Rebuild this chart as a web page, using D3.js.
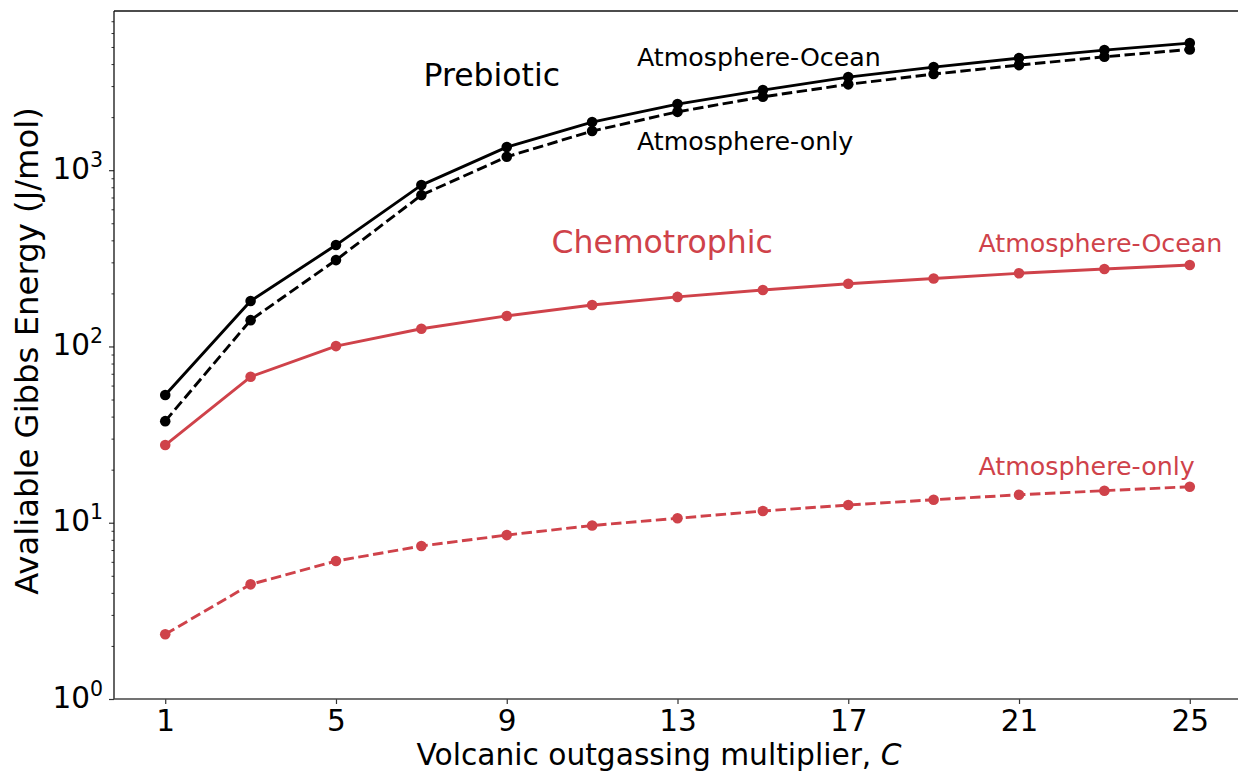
<!DOCTYPE html>
<html>
<head>
<meta charset="utf-8">
<script src="https://cdn.jsdelivr.net/npm/d3@7"></script>
<style>
  html, body { margin: 0; padding: 0; background: #fff; overflow: hidden; }
  svg { display: block; font-family: "DejaVu Sans", sans-serif; }
</style>
</head>
<body>
<svg id="chart" width="1238" height="773"></svg>
<script>
// ---- data ----
const multipliers = [1, 3, 5, 7, 9, 11, 13, 15, 17, 19, 21, 23, 25];
const prebioticAtmOcean = [53, 181, 376, 823, 1352, 1875, 2371, 2846, 3374, 3846, 4324, 4800, 5260];
const prebioticAtmOnly  = [37.7, 141, 309, 722, 1191, 1667, 2143, 2608, 3068, 3510, 3947, 4399, 4843];
const chemoAtmOcean     = [27.6, 67.3, 100.5, 126, 149, 172, 191, 209, 227, 243, 260, 275, 290];
const chemoAtmOnly      = [2.33, 4.47, 6.06, 7.38, 8.51, 9.64, 10.6, 11.65, 12.6, 13.5, 14.4, 15.2, 16.0];
const xTicks = [1, 5, 9, 13, 17, 21, 25];
const yTicks = [1, 10, 100, 1000];
const yExponents = ["0", "1", "2", "3"];
const xLabel = "Volcanic outgassing multiplier, ";
const xLabelItalic = "C";
const yLabel = "Avaliable Gibbs Energy (J/mol)";

// annotations (data coordinates)
const annotations = [
  { text: "Prebiotic",        x: 7.05, y: 3000, size: 31.5, color: "black" },
  { text: "Atmosphere-Ocean", x: 12.05, y: 3900, size: 25.3, color: "black" },
  { text: "Atmosphere-only",  x: 12.05, y: 1300, size: 25.3, color: "black" },
  { text: "Chemotrophic",     x: 10.05, y: 340,  size: 31.5, color: "red" },
  { text: "Atmosphere-Ocean", x: 20.05, y: 345,  size: 25.3, color: "red" },
  { text: "Atmosphere-only",  x: 20.05, y: 18.6, size: 25.3, color: "red" }
];

// ---- styles ----
const RED = "#cf424a";
const BLACK = "#000000";
const colorOf = c => c === "red" ? RED : BLACK;

const series = [
  { values: prebioticAtmOcean, color: BLACK, dashed: false },
  { values: prebioticAtmOnly,  color: BLACK, dashed: true },
  { values: chemoAtmOcean,     color: RED,   dashed: false },
  { values: chemoAtmOnly,      color: RED,   dashed: true }
];

const svg = d3.select("#chart");
const pLeft = 114, pRight = 1241, pTop = 11, pBottom = 699;

const x = d3.scaleLinear().domain([-0.2, 26.2]).range([pLeft, pRight]);
const y = d3.scaleLog().domain([1, 8000]).range([pBottom, pTop]);

// minor ticks
const minor = [];
for (let d = 1; d <= 1000; d *= 10) {
  for (let m = 2; m <= 9; m++) if (d * m < 8000) minor.push(d * m);
}

const axisColor = "#333";

// y minor ticks
const gyMinor = svg.append("g").attr("transform", `translate(${pLeft},0)`)
  .call(d3.axisLeft(y).tickValues(minor).tickSize(2.5).tickFormat(""));
gyMinor.select(".domain").remove();
gyMinor.selectAll("line").attr("stroke", axisColor).attr("stroke-width", 1);

// y major ticks
const gy = svg.append("g").attr("transform", `translate(${pLeft},0)`)
  .call(d3.axisLeft(y).tickValues(yTicks).tickSize(5).tickFormat(""));
gy.select(".domain").remove();
gy.selectAll("line").attr("stroke", axisColor).attr("stroke-width", 1.2);
gy.selectAll(".tick").each(function(d, i) {
  const t = d3.select(this).append("text")
    .attr("x", -11).attr("y", 8)
    .attr("text-anchor", "end")
    .attr("fill", "#000")
    .style("font-size", "29.5px")
    .style("font-family", "DejaVu Sans");
  t.append("tspan").text("10");
  t.append("tspan").attr("dy", -12).style("font-size", "20.5px").text(yExponents[i]);
});

// x ticks
const gx = svg.append("g").attr("transform", `translate(0,${pBottom})`)
  .call(d3.axisBottom(x).tickValues(xTicks).tickSize(5).tickFormat(d3.format("d")));
gx.select(".domain").remove();
gx.selectAll("line").attr("stroke", axisColor).attr("stroke-width", 1.2);
gx.selectAll("text")
  .attr("y", 11).attr("dy", "0.71em")
  .attr("fill", "#000")
  .style("font-size", "29.5px")
  .style("font-family", "DejaVu Sans");

// spines
svg.append("line").attr("x1", pLeft).attr("x2", pLeft).attr("y1", pTop).attr("y2", pBottom)
  .attr("stroke", "#111").attr("stroke-width", 1.3);
svg.append("line").attr("x1", pLeft).attr("x2", pRight).attr("y1", pBottom).attr("y2", pBottom)
  .attr("stroke", "#444").attr("stroke-width", 1.3);
svg.append("line").attr("x1", pLeft).attr("x2", pRight).attr("y1", pTop).attr("y2", pTop)
  .attr("stroke", "#111").attr("stroke-width", 1.3);
svg.append("line").attr("x1", pRight).attr("x2", pRight).attr("y1", pTop).attr("y2", pBottom)
  .attr("stroke", "#111").attr("stroke-width", 1.3);

// series
const line = d3.line().x((d, i) => x(multipliers[i])).y(d => y(d));
series.forEach(s => {
  svg.append("path")
    .datum(s.values)
    .attr("d", line)
    .attr("fill", "none")
    .attr("stroke", s.color)
    .attr("stroke-width", 2.9)
    .attr("stroke-dasharray", s.dashed ? "10.5,4.5" : null)
    .attr("stroke-linejoin", "round");
  svg.append("g").selectAll("circle")
    .data(s.values)
    .join("circle")
    .attr("cx", (d, i) => x(multipliers[i]))
    .attr("cy", d => y(d))
    .attr("r", 5.3)
    .attr("fill", s.color);
});

// annotations
annotations.forEach(a => {
  svg.append("text")
    .attr("x", x(a.x)).attr("y", y(a.y))
    .attr("fill", colorOf(a.color))
    .style("font-size", a.size + "px")
    .text(a.text);
});

// axis labels
const xl = svg.append("text")
  .attr("x", 659).attr("y", 765)
  .attr("text-anchor", "middle")
  .attr("fill", "#000")
  .style("font-size", "29.7px");
xl.append("tspan").text(xLabel);
xl.append("tspan").style("font-style", "italic").text(xLabelItalic);

svg.append("text")
  .attr("transform", "translate(38,351) rotate(-90)")
  .attr("text-anchor", "middle")
  .attr("fill", "#000")
  .style("font-size", "32.3px")
  .text(yLabel);
</script>
</body>
</html>
